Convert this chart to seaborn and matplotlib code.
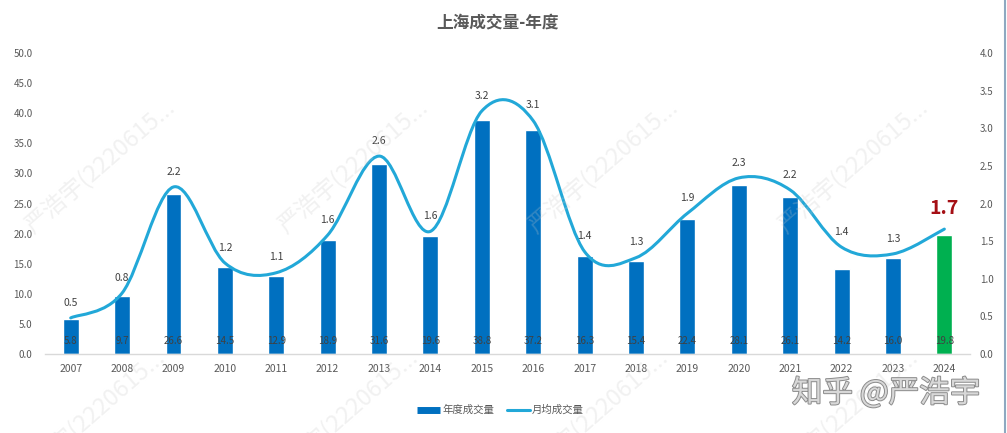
import numpy as np
import pandas as pd
import matplotlib
matplotlib.use("Agg")
import matplotlib.pyplot as plt
import seaborn as sns
from matplotlib.path import Path
from matplotlib.patches import PathPatch
from matplotlib.lines import Line2D
import matplotlib.patheffects as pe

# 数据
years = ["2007", "2008", "2009", "2010", "2011", "2012", "2013", "2014", "2015",
         "2016", "2017", "2018", "2019", "2020", "2021", "2022", "2023", "2024"]
annual = [5.8, 9.7, 26.6, 14.5, 12.9, 18.9, 31.6, 19.6, 38.8,
          37.2, 16.3, 15.4, 22.4, 28.1, 26.1, 14.2, 16.0, 19.8]
monthly = [0.48, 0.81, 2.22, 1.21, 1.08, 1.58, 2.63, 1.63, 3.23,
           3.10, 1.36, 1.28, 1.87, 2.34, 2.18, 1.42, 1.33, 1.66]

BLUE = "#0070C0"
GREEN = "#00B050"
LINE = "#22A8D8"
GREY = "#595959"

sns.set_style("white")
plt.rcParams["font.family"] = ["Noto Sans CJK SC", "DejaVu Sans"]

df = pd.DataFrame({"年份": years, "年度成交量": annual, "月均成交量": monthly})
colors = [BLUE] * (len(years) - 1) + [GREEN]

fig = plt.figure(figsize=(10.07, 4.33), dpi=100)
ax = fig.add_axes([0.0447, 0.1824, 0.9186, 0.6952])

sns.barplot(data=df, x="年份", y="年度成交量", hue="年份", palette=colors,
            width=0.31, legend=False, ax=ax, saturation=1)
ax.set_xlim(-0.5, len(years) - 0.5)
ax.set_ylim(0, 50)
ax.set_yticks(np.arange(0, 50.1, 5))
ax.set_yticklabels([f"{v:.1f}" for v in np.arange(0, 50.1, 5)])
ax.set_xlabel("")
ax.set_ylabel("")
ax.tick_params(axis="y", length=0, pad=9, labelsize=7, labelcolor=GREY)
ax.tick_params(axis="x", length=0, pad=7, labelsize=7.5, labelcolor=GREY)
for s in ["top", "right", "left"]:
    ax.spines[s].set_visible(False)
ax.spines["bottom"].set_color("#D9D9D9")
ax.spines["bottom"].set_linewidth(1)

# 柱内数值
for i, v in enumerate(df["年度成交量"]):
    ax.annotate(f"{v:.1f}", xy=(i, 0), xytext=(0, 9.5), textcoords="offset points",
                ha="center", va="center", fontsize=7, color="#404040")

# 月均线（平滑曲线）
ax2 = ax.twinx()
ax2.set_ylim(0, 4)
ax2.set_yticks(np.arange(0, 4.01, 0.5))
ax2.set_yticklabels([f"{v:.1f}" for v in np.arange(0, 4.01, 0.5)])
ax2.tick_params(axis="y", length=0, pad=7, labelsize=7, labelcolor=GREY)
for s in ax2.spines.values():
    s.set_visible(False)

pts = np.column_stack([np.arange(len(years)), df["月均成交量"].to_numpy()])
verts = [pts[0]]
codes = [Path.MOVETO]
n = len(pts)
for i in range(n - 1):
    p0 = pts[max(i - 1, 0)]
    p1 = pts[i]
    p2 = pts[i + 1]
    p3 = pts[min(i + 2, n - 1)]
    verts += [p1 + (p2 - p0) / 6, p2 - (p3 - p1) / 6, p2]
    codes += [Path.CURVE4] * 3
curve = PathPatch(Path(verts, codes), fill=False, edgecolor=LINE, lw=2.2,
                  capstyle="round", joinstyle="round", transform=ax2.transData)
ax2.add_patch(curve)

for i, v in enumerate(df["月均成交量"]):
    if i == n - 1:
        ax2.annotate(f"{v:.1f}", xy=(i, v), xytext=(0, 14.5), textcoords="offset points",
                     ha="center", va="center", fontsize=14, fontweight="bold",
                     color="#A50F15")
    else:
        ax2.annotate(f"{v:.1f}", xy=(i, v), xytext=(0, 11), textcoords="offset points",
                     ha="center", va="center", fontsize=7.5, color="#404040")

# 标题与图例
fig.text(0.4945, 0.949, "上海成交量-年度", ha="center", va="center",
         fontsize=12, fontweight="bold", color=GREY)
handles = [Line2D([], [], color=BLUE, lw=5, solid_capstyle="butt"),
           Line2D([], [], color=LINE, lw=2.2)]
fig.legend(handles, ["年度成交量", "月均成交量"], loc="center", bbox_to_anchor=(0.497, 0.053),
           ncol=2, frameon=False, fontsize=7.5, labelcolor=GREY, handlelength=2.2,
           handletextpad=0.2, columnspacing=1.2)

# 水印（与原图一样，底行被边缘截断）
for y in [167, 417]:
    for x in [100, 353, 603, 853]:
        fig.text((x - (10 if y > 300 else 0)) / 1007, 1 - y / 433, "严浩宇(2220615...",
                 rotation=41, ha="center", va="center", fontsize=17,
                 color="#C8C8C8", alpha=0.25, zorder=10)
fig.text(886 / 1007, 1 - 393 / 433, "知乎 @严浩宇", ha="center", va="center",
         fontsize=22, color="#D8D8D8", zorder=11,
         path_effects=[pe.withStroke(linewidth=1.4, foreground="#8C8C8C")])

fig.add_artist(Line2D([0.998, 0.998], [0, 1], transform=fig.transFigure,
                      color="#8EA9C1", lw=1.5))

fig.savefig("out.png", dpi=100)
